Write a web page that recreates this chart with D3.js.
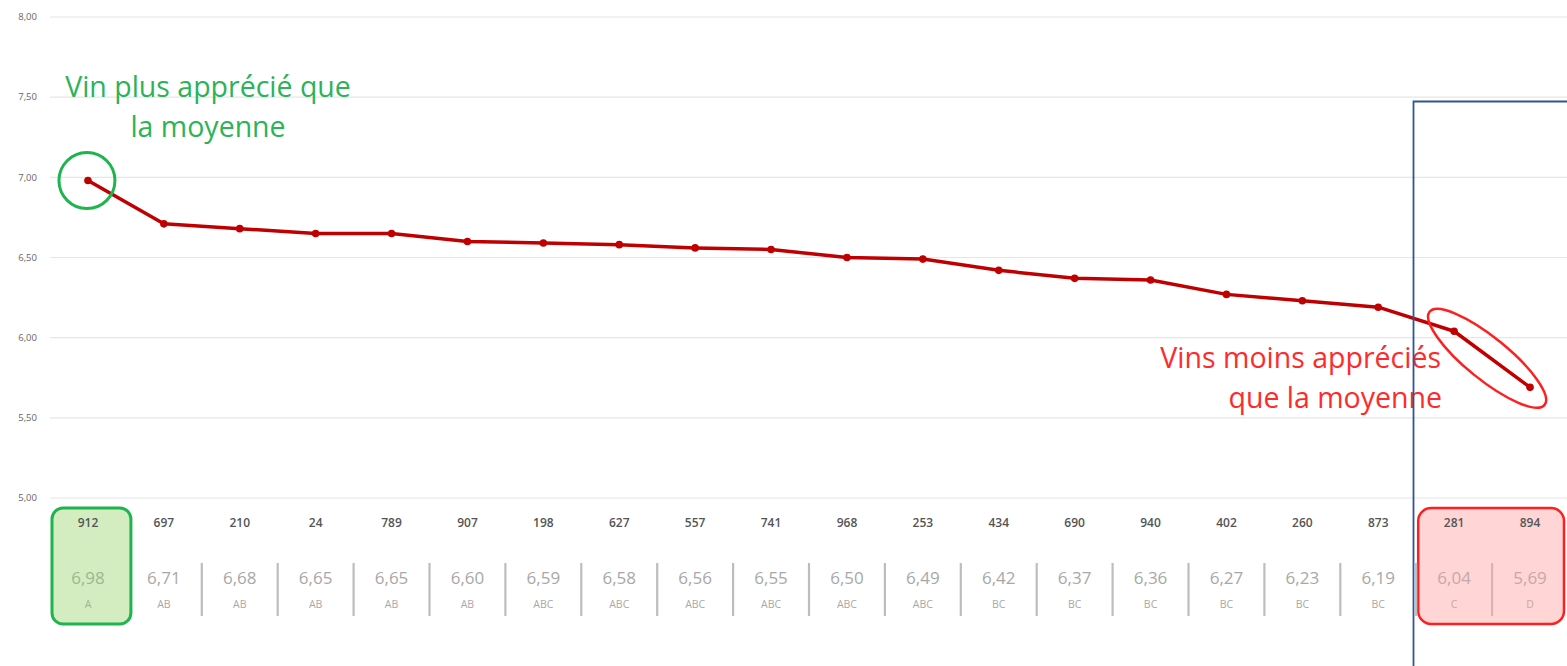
<!DOCTYPE html>
<html><head><meta charset="utf-8">
<script src="https://cdn.jsdelivr.net/npm/d3@7"></script>
<style>body{margin:0;background:#fff;}svg{display:block;}</style>
</head><body>
<svg id="c" width="1567" height="666"></svg>
<script>
const wines = ["912","697","210","24","789","907","198","627","557","741","968","253","434","690","940","402","260","873","281","894"];
const scores = [6.98,6.71,6.68,6.65,6.65,6.60,6.59,6.58,6.56,6.55,6.50,6.49,6.42,6.37,6.36,6.27,6.23,6.19,6.04,5.69];
const groups = ["A","AB","AB","AB","AB","AB","ABC","ABC","ABC","ABC","ABC","ABC","BC","BC","BC","BC","BC","BC","C","D"];
const yTicks = [5.0,5.5,6.0,6.5,7.0,7.5,8.0];

const svg = d3.select("#c");
const font = "'Open Sans', 'Noto Sans', sans-serif";
const x = d3.scaleBand().domain(wines).range([50,1568]);
const y = d3.scaleLinear().domain([5,8]).range([498,17]);
const fmt = v => d3.format(".2f")(v).replace(".", ",");

// gridlines
svg.append("g").selectAll("line").data(yTicks).join("line")
  .attr("x1",50).attr("x2",1567).attr("y1",d=>y(d)).attr("y2",d=>y(d))
  .attr("stroke","#e6e6e6").attr("stroke-width",1.2);
// y axis labels
svg.append("g").selectAll("text").data(yTicks).join("text")
  .attr("x",37).attr("y",d=>y(d)).attr("dy","0.35em").attr("text-anchor","end")
  .attr("font-family",font).attr("font-size",9.5).attr("fill","#666").text(fmt);

// boxes behind table
const c0 = x(wines[0]), cN = x(wines[18]);
svg.append("rect").attr("x",c0+2).attr("y",508).attr("width",x.bandwidth()+3).attr("height",116)
  .attr("rx",11).attr("fill","#d3ecc0").attr("stroke","#1eb44e").attr("stroke-width",3);
svg.append("rect").attr("x",cN+2).attr("y",508).attr("width",x.bandwidth()*2-6).attr("height",116)
  .attr("rx",13).attr("fill","#ffd5d5").attr("stroke","#ff1f1f").attr("stroke-width",2.5);

// separators
svg.append("g").selectAll("line").data(wines.slice(2)).join("line")
  .attr("x1",d=>x(d)).attr("x2",d=>x(d)).attr("y1",563).attr("y2",616)
  .attr("stroke",(d,i)=> i>=17 ? "#e0b0b0" : "#bdbdbd").attr("stroke-width",2.2);

// table texts
const cols = svg.append("g").selectAll("g").data(wines).join("g")
  .attr("transform",d=>`translate(${x(d)+x.bandwidth()/2},0)`);
cols.append("text").attr("y",527).attr("text-anchor","middle")
  .attr("font-family",font).attr("font-size",12).attr("font-weight",600).attr("fill","#555").text(d=>d);
cols.append("text").attr("y",584).attr("text-anchor","middle")
  .attr("font-family",font).attr("font-size",17)
  .attr("fill",(d,i)=> i===0 ? "#9bb88f" : (i>=18 ? "#c6a8a8" : "#a8a8a8"))
  .text((d,i)=>fmt(scores[i]));
cols.append("text").attr("y",608).attr("text-anchor","middle")
  .attr("font-family",font).attr("font-size",10.5)
  .attr("fill",(d,i)=> i===0 ? "#9bb88f" : (i>=18 ? "#c6a8a8" : "#a8a8a8"))
  .text((d,i)=>groups[i]);

// line
const pts = wines.map((w,i)=>[x(w)+x.bandwidth()/2, y(scores[i])]);
svg.append("path").attr("d",d3.line()(pts)).attr("fill","none")
  .attr("stroke","#c00000").attr("stroke-width",3.5).attr("stroke-linejoin","round");
svg.append("g").selectAll("circle").data(pts).join("circle")
  .attr("cx",d=>d[0]).attr("cy",d=>d[1]).attr("r",3.8).attr("fill","#c00000");

// green annotation
svg.append("circle").attr("cx",pts[0][0]-1).attr("cy",pts[0][1]).attr("r",28)
  .attr("fill","none").attr("stroke","#1eb44e").attr("stroke-width",3);
const gt = svg.append("text").attr("text-anchor","middle").attr("font-family",font)
  .attr("font-size",28.5).attr("fill","#2cb35a");
gt.append("tspan").attr("x",208).attr("y",97).text("Vin plus apprécié que");
gt.append("tspan").attr("x",208).attr("y",137).text("la moyenne");

// red annotation
const m = [(pts[18][0]+pts[19][0])/2-5, (pts[18][1]+pts[19][1])/2-1];
svg.append("ellipse").attr("cx",0).attr("cy",0).attr("rx",74).attr("ry",21)
  .attr("transform",`translate(${m[0]},${m[1]}) rotate(39)`)
  .attr("fill","none").attr("stroke","#ff1f1f").attr("stroke-width",2.5);
const rt = svg.append("text").attr("text-anchor","end").attr("font-family",font)
  .attr("font-size",28.5).attr("fill","#ff2a2a");
rt.append("tspan").attr("x",1441).attr("y",368).text("Vins moins appréciés");
rt.append("tspan").attr("x",1442).attr("y",408).text("que la moyenne");

// blue frame
svg.append("path").attr("d","M1413.5,666 V101.5 H1567")
  .attr("fill","none").attr("stroke","#2f5597").attr("stroke-width",1.8);
</script>
</body></html>
